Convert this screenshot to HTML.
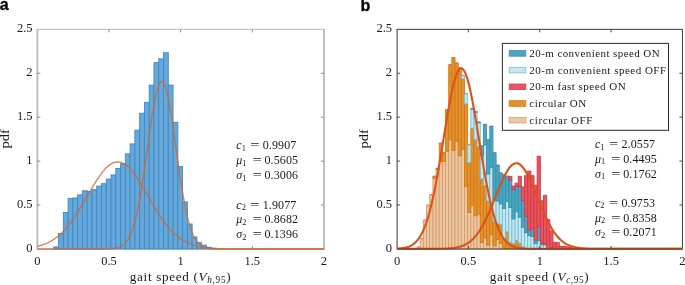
<!DOCTYPE html>
<html><head><meta charset="utf-8"><title>Gait speed pdf</title>
<style>html,body{margin:0;padding:0;background:#fff;}body{width:685px;height:285px;overflow:hidden;}svg{display:block;will-change:transform;}</style>
</head><body>
<svg width="685" height="285" viewBox="0 0 685 285" font-family='"Liberation Serif", "DejaVu Serif", serif' fill="#1a1a1a">
<rect width="685" height="285" fill="#fff"/>
<path d="M37.35 29.35H323.95M37.35 249.00H323.95" stroke="#c6c6c6" stroke-width="1.3" fill="none"/>
<path d="M37.35 28.75V249.60M323.95 28.75V249.60" stroke="#b6b6b6" stroke-width="1.7" fill="none"/>
<g fill="#68a8d8" stroke="#3a8acb" stroke-width="0.9">
<rect x="53.80" y="246.89" width="4.77" height="2.11"/>
<rect x="58.57" y="233.54" width="4.77" height="15.46"/>
<rect x="63.34" y="212.45" width="4.77" height="36.55"/>
<rect x="68.11" y="198.39" width="4.77" height="50.61"/>
<rect x="72.88" y="197.95" width="4.77" height="51.05"/>
<rect x="77.65" y="194.88" width="4.77" height="54.12"/>
<rect x="82.42" y="190.75" width="4.77" height="58.25"/>
<rect x="87.19" y="191.36" width="4.77" height="57.64"/>
<rect x="91.96" y="189.61" width="4.77" height="59.39"/>
<rect x="96.73" y="186.09" width="4.77" height="62.91"/>
<rect x="101.50" y="183.72" width="4.77" height="65.28"/>
<rect x="106.27" y="179.06" width="4.77" height="69.94"/>
<rect x="111.04" y="174.93" width="4.77" height="74.07"/>
<rect x="115.81" y="168.52" width="4.77" height="80.48"/>
<rect x="120.58" y="163.69" width="4.77" height="85.31"/>
<rect x="125.35" y="153.85" width="4.77" height="95.15"/>
<rect x="130.12" y="143.92" width="4.77" height="105.08"/>
<rect x="134.89" y="130.12" width="4.77" height="118.88"/>
<rect x="139.66" y="113.25" width="4.77" height="135.75"/>
<rect x="144.43" y="102.36" width="4.77" height="146.64"/>
<rect x="149.20" y="85.14" width="4.77" height="163.86"/>
<rect x="153.97" y="62.65" width="4.77" height="186.35"/>
<rect x="158.74" y="58.87" width="4.77" height="190.13"/>
<rect x="163.51" y="52.72" width="4.77" height="196.28"/>
<rect x="168.28" y="85.05" width="4.77" height="163.95"/>
<rect x="173.05" y="122.30" width="4.77" height="126.70"/>
<rect x="177.82" y="166.50" width="4.77" height="82.50"/>
<rect x="182.59" y="201.91" width="4.77" height="47.09"/>
<rect x="187.36" y="224.05" width="4.77" height="24.95"/>
<rect x="192.13" y="237.05" width="4.77" height="11.95"/>
<rect x="196.90" y="242.67" width="4.77" height="6.33"/>
<rect x="201.67" y="245.13" width="4.77" height="3.87"/>
<rect x="206.44" y="247.24" width="4.77" height="1.76"/>
<rect x="211.21" y="248.30" width="4.77" height="0.70"/>
</g>
<path d="M37.35 246.31 L37.92 246.17 L38.50 246.03 L39.07 245.88 L39.64 245.73 L40.22 245.57 L40.79 245.40 L41.36 245.23 L41.94 245.04 L42.51 244.85 L43.08 244.66 L43.66 244.45 L44.23 244.24 L44.80 244.02 L45.37 243.79 L45.95 243.56 L46.52 243.31 L47.09 243.06 L47.67 242.79 L48.24 242.52 L48.81 242.24 L49.39 241.95 L49.96 241.64 L50.53 241.33 L51.11 241.01 L51.68 240.67 L52.25 240.33 L52.83 239.97 L53.40 239.60 L53.97 239.23 L54.55 238.83 L55.12 238.43 L55.69 238.02 L56.27 237.59 L56.84 237.15 L57.41 236.70 L57.99 236.24 L58.56 235.76 L59.13 235.27 L59.70 234.77 L60.28 234.25 L60.85 233.72 L61.42 233.18 L62.00 232.62 L62.57 232.05 L63.14 231.47 L63.72 230.87 L64.29 230.26 L64.86 229.63 L65.44 228.99 L66.01 228.34 L66.58 227.67 L67.16 226.99 L67.73 226.30 L68.30 225.59 L68.88 224.87 L69.45 224.14 L70.02 223.39 L70.60 222.63 L71.17 221.86 L71.74 221.07 L72.32 220.27 L72.89 219.46 L73.46 218.64 L74.03 217.80 L74.61 216.96 L75.18 216.10 L75.75 215.23 L76.33 214.35 L76.90 213.46 L77.47 212.56 L78.05 211.65 L78.62 210.73 L79.19 209.80 L79.77 208.87 L80.34 207.92 L80.91 206.97 L81.49 206.02 L82.06 205.05 L82.63 204.08 L83.21 203.11 L83.78 202.13 L84.35 201.15 L84.93 200.16 L85.50 199.17 L86.07 198.18 L86.65 197.19 L87.22 196.19 L87.79 195.20 L88.36 194.21 L88.94 193.21 L89.51 192.23 L90.08 191.24 L90.66 190.26 L91.23 189.28 L91.80 188.31 L92.38 187.34 L92.95 186.38 L93.52 185.43 L94.10 184.48 L94.67 183.55 L95.24 182.62 L95.82 181.71 L96.39 180.81 L96.96 179.92 L97.54 179.04 L98.11 178.18 L98.68 177.33 L99.26 176.49 L99.83 175.68 L100.40 174.88 L100.98 174.10 L101.55 173.33 L102.12 172.59 L102.69 171.87 L103.27 171.16 L103.84 170.48 L104.41 169.82 L104.99 169.18 L105.56 168.57 L106.13 167.98 L106.71 167.42 L107.28 166.88 L107.85 166.36 L108.43 165.87 L109.00 165.41 L109.57 164.98 L110.15 164.57 L110.72 164.19 L111.29 163.84 L111.87 163.52 L112.44 163.23 L113.01 162.97 L113.59 162.74 L114.16 162.53 L114.73 162.36 L115.31 162.22 L115.88 162.11 L116.45 162.03 L117.02 161.98 L117.60 161.96 L118.17 161.97 L118.74 162.01 L119.32 162.08 L119.89 162.19 L120.46 162.32 L121.04 162.49 L121.61 162.68 L122.18 162.91 L122.76 163.16 L123.33 163.45 L123.90 163.76 L124.48 164.10 L125.05 164.47 L125.62 164.87 L126.20 165.30 L126.77 165.76 L127.34 166.24 L127.92 166.74 L128.49 167.28 L129.06 167.84 L129.64 168.42 L130.21 169.03 L130.78 169.66 L131.35 170.31 L131.93 170.99 L132.50 171.69 L133.07 172.41 L133.65 173.15 L134.22 173.90 L134.79 174.68 L135.37 175.48 L135.94 176.29 L136.51 177.12 L137.09 177.96 L137.66 178.82 L138.23 179.70 L138.81 180.58 L139.38 181.48 L139.95 182.39 L140.53 183.32 L141.10 184.25 L141.67 185.19 L142.25 186.14 L142.82 187.10 L143.39 188.06 L143.97 189.04 L144.54 190.01 L145.11 190.99 L145.68 191.98 L146.26 192.97 L146.83 193.96 L147.40 194.95 L147.98 195.94 L148.55 196.94 L149.12 197.93 L149.70 198.92 L150.27 199.91 L150.84 200.90 L151.42 201.88 L151.99 202.86 L152.56 203.84 L153.14 204.81 L153.71 205.78 L154.28 206.74 L154.86 207.69 L155.43 208.63 L156.00 209.57 L156.58 210.50 L157.15 211.42 L157.72 212.33 L158.30 213.24 L158.87 214.13 L159.44 215.01 L160.01 215.88 L160.59 216.74 L161.16 217.59 L161.73 218.43 L162.31 219.26 L162.88 220.07 L163.45 220.87 L164.03 221.66 L164.60 222.44 L165.17 223.20 L165.75 223.95 L166.32 224.69 L166.89 225.42 L167.47 226.13 L168.04 226.82 L168.61 227.51 L169.19 228.18 L169.76 228.83 L170.33 229.47 L170.91 230.10 L171.48 230.72 L172.05 231.32 L172.63 231.91 L173.20 232.48 L173.77 233.04 L174.34 233.59 L174.92 234.12 L175.49 234.64 L176.06 235.14 L176.64 235.64 L177.21 236.12 L177.78 236.59 L178.36 237.04 L178.93 237.48 L179.50 237.91 L180.08 238.33 L180.65 238.74 L181.22 239.13 L181.80 239.51 L182.37 239.88 L182.94 240.24 L183.52 240.59 L184.09 240.92 L184.66 241.25 L185.24 241.57 L185.81 241.87 L186.38 242.17 L186.96 242.45 L187.53 242.73 L188.10 242.99 L188.67 243.25 L189.25 243.50 L189.82 243.74 L190.39 243.97 L190.97 244.19 L191.54 244.40 L192.11 244.61 L192.69 244.81 L193.26 245.00 L193.83 245.18 L194.41 245.36 L194.98 245.53 L195.55 245.69 L196.13 245.84 L196.70 245.99 L197.27 246.14 L197.85 246.28 L198.42 246.41 L198.99 246.53 L199.57 246.66 L200.14 246.77 L200.71 246.88 L201.29 246.99 L201.86 247.09 L202.43 247.19 L203.00 247.28 L203.58 247.37 L204.15 247.45 L204.72 247.53 L205.30 247.61 L205.87 247.68 L206.44 247.75 L207.02 247.82 L207.59 247.89 L208.16 247.95 L208.74 248.00 L209.31 248.06 L209.88 248.11 L210.46 248.16 L211.03 248.21 L211.60 248.25 L212.18 248.29 L212.75 248.33 L213.32 248.37 L213.90 248.41 L214.47 248.44 L215.04 248.47 L215.62 248.51 L216.19 248.53 L216.76 248.56 L217.33 248.59 L217.91 248.61 L218.48 248.64 L219.05 248.66 L219.63 248.68 L220.20 248.70 L220.77 248.72 L221.35 248.73 L221.92 248.75 L222.49 248.77 L223.07 248.78 L223.64 248.80 L224.21 248.81 L224.79 248.82 L225.36 248.83 L225.93 248.84 L226.51 248.85 L227.08 248.86 L227.65 248.87 L228.23 248.88 L228.80 248.89 L229.37 248.90 L229.95 248.90 L230.52 248.91 L231.09 248.92 L231.66 248.92 L232.24 248.93 L232.81 248.93 L233.38 248.94 L233.96 248.94 L234.53 248.94 L235.10 248.95 L235.68 248.95 L236.25 248.96 L236.82 248.96 L237.40 248.96 L237.97 248.96 L238.54 248.97 L239.12 248.97 L239.69 248.97 L240.26 248.97 L240.84 248.98 L241.41 248.98 L241.98 248.98 L242.56 248.98 L243.13 248.98 L243.70 248.98 L244.28 248.98 L244.85 248.99 L245.42 248.99 L245.99 248.99 L246.57 248.99 L247.14 248.99 L247.71 248.99 L248.29 248.99 L248.86 248.99 L249.43 248.99 L250.01 248.99 L250.58 248.99 L251.15 248.99 L251.73 248.99 L252.30 249.00 L252.87 249.00 L253.45 249.00 L254.02 249.00 L254.59 249.00 L255.17 249.00 L255.74 249.00 L256.31 249.00 L256.89 249.00 L257.46 249.00 L258.03 249.00 L258.61 249.00 L259.18 249.00 L259.75 249.00 L260.32 249.00 L260.90 249.00 L261.47 249.00 L262.04 249.00 L262.62 249.00 L263.19 249.00 L263.76 249.00 L264.34 249.00 L264.91 249.00 L265.48 249.00 L266.06 249.00 L266.63 249.00 L267.20 249.00 L267.78 249.00 L268.35 249.00 L268.92 249.00 L269.50 249.00 L270.07 249.00 L270.64 249.00 L271.22 249.00 L271.79 249.00 L272.36 249.00 L272.94 249.00 L273.51 249.00 L274.08 249.00 L274.65 249.00 L275.23 249.00 L275.80 249.00 L276.37 249.00 L276.95 249.00 L277.52 249.00 L278.09 249.00 L278.67 249.00 L279.24 249.00 L279.81 249.00 L280.39 249.00 L280.96 249.00 L281.53 249.00 L282.11 249.00 L282.68 249.00 L283.25 249.00 L283.83 249.00 L284.40 249.00 L284.97 249.00 L285.55 249.00 L286.12 249.00 L286.69 249.00 L287.27 249.00 L287.84 249.00 L288.41 249.00 L288.98 249.00 L289.56 249.00 L290.13 249.00 L290.70 249.00 L291.28 249.00 L291.85 249.00 L292.42 249.00 L293.00 249.00 L293.57 249.00 L294.14 249.00 L294.72 249.00 L295.29 249.00 L295.86 249.00 L296.44 249.00 L297.01 249.00 L297.58 249.00 L298.16 249.00 L298.73 249.00 L299.30 249.00 L299.88 249.00 L300.45 249.00 L301.02 249.00 L301.60 249.00 L302.17 249.00 L302.74 249.00 L303.31 249.00 L303.89 249.00 L304.46 249.00 L305.03 249.00 L305.61 249.00 L306.18 249.00 L306.75 249.00 L307.33 249.00 L307.90 249.00 L308.47 249.00 L309.05 249.00 L309.62 249.00 L310.19 249.00 L310.77 249.00 L311.34 249.00 L311.91 249.00 L312.49 249.00 L313.06 249.00 L313.63 249.00 L314.21 249.00 L314.78 249.00 L315.35 249.00 L315.93 249.00 L316.50 249.00 L317.07 249.00 L317.64 249.00 L318.22 249.00 L318.79 249.00 L319.36 249.00 L319.94 249.00 L320.51 249.00 L321.08 249.00 L321.66 249.00 L322.23 249.00 L322.80 249.00 L323.38 249.00 L323.95 249.00" fill="none" stroke="#d6632b" stroke-width="1.4" stroke-opacity="0.78" stroke-linejoin="round"/>
<path d="M37.35 249.00 L37.92 249.00 L38.50 249.00 L39.07 249.00 L39.64 249.00 L40.22 249.00 L40.79 249.00 L41.36 249.00 L41.94 249.00 L42.51 249.00 L43.08 249.00 L43.66 249.00 L44.23 249.00 L44.80 249.00 L45.37 249.00 L45.95 249.00 L46.52 249.00 L47.09 249.00 L47.67 249.00 L48.24 249.00 L48.81 249.00 L49.39 249.00 L49.96 249.00 L50.53 249.00 L51.11 249.00 L51.68 249.00 L52.25 249.00 L52.83 249.00 L53.40 249.00 L53.97 249.00 L54.55 249.00 L55.12 249.00 L55.69 249.00 L56.27 249.00 L56.84 249.00 L57.41 249.00 L57.99 249.00 L58.56 249.00 L59.13 249.00 L59.70 249.00 L60.28 249.00 L60.85 249.00 L61.42 249.00 L62.00 249.00 L62.57 249.00 L63.14 249.00 L63.72 249.00 L64.29 249.00 L64.86 249.00 L65.44 249.00 L66.01 249.00 L66.58 249.00 L67.16 249.00 L67.73 249.00 L68.30 249.00 L68.88 249.00 L69.45 249.00 L70.02 249.00 L70.60 249.00 L71.17 249.00 L71.74 249.00 L72.32 249.00 L72.89 249.00 L73.46 249.00 L74.03 249.00 L74.61 249.00 L75.18 249.00 L75.75 249.00 L76.33 249.00 L76.90 249.00 L77.47 249.00 L78.05 249.00 L78.62 249.00 L79.19 249.00 L79.77 249.00 L80.34 249.00 L80.91 249.00 L81.49 249.00 L82.06 249.00 L82.63 249.00 L83.21 249.00 L83.78 249.00 L84.35 249.00 L84.93 249.00 L85.50 249.00 L86.07 249.00 L86.65 249.00 L87.22 249.00 L87.79 249.00 L88.36 249.00 L88.94 249.00 L89.51 249.00 L90.08 249.00 L90.66 249.00 L91.23 249.00 L91.80 249.00 L92.38 249.00 L92.95 249.00 L93.52 249.00 L94.10 249.00 L94.67 249.00 L95.24 249.00 L95.82 249.00 L96.39 249.00 L96.96 249.00 L97.54 248.99 L98.11 248.99 L98.68 248.99 L99.26 248.99 L99.83 248.99 L100.40 248.99 L100.98 248.98 L101.55 248.98 L102.12 248.98 L102.69 248.97 L103.27 248.97 L103.84 248.96 L104.41 248.95 L104.99 248.95 L105.56 248.94 L106.13 248.93 L106.71 248.91 L107.28 248.90 L107.85 248.88 L108.43 248.86 L109.00 248.84 L109.57 248.81 L110.15 248.78 L110.72 248.75 L111.29 248.71 L111.87 248.67 L112.44 248.62 L113.01 248.56 L113.59 248.49 L114.16 248.42 L114.73 248.33 L115.31 248.24 L115.88 248.13 L116.45 248.01 L117.02 247.87 L117.60 247.72 L118.17 247.55 L118.74 247.36 L119.32 247.14 L119.89 246.90 L120.46 246.64 L121.04 246.34 L121.61 246.02 L122.18 245.66 L122.76 245.26 L123.33 244.82 L123.90 244.34 L124.48 243.81 L125.05 243.23 L125.62 242.59 L126.20 241.90 L126.77 241.14 L127.34 240.32 L127.92 239.43 L128.49 238.46 L129.06 237.42 L129.64 236.29 L130.21 235.08 L130.78 233.77 L131.35 232.37 L131.93 230.87 L132.50 229.27 L133.07 227.57 L133.65 225.75 L134.22 223.82 L134.79 221.77 L135.37 219.61 L135.94 217.33 L136.51 214.93 L137.09 212.40 L137.66 209.75 L138.23 206.98 L138.81 204.09 L139.38 201.07 L139.95 197.94 L140.53 194.69 L141.10 191.33 L141.67 187.87 L142.25 184.30 L142.82 180.64 L143.39 176.88 L143.97 173.05 L144.54 169.14 L145.11 165.17 L145.68 161.15 L146.26 157.08 L146.83 152.99 L147.40 148.87 L147.98 144.75 L148.55 140.64 L149.12 136.55 L149.70 132.50 L150.27 128.51 L150.84 124.58 L151.42 120.73 L151.99 116.98 L152.56 113.34 L153.14 109.83 L153.71 106.47 L154.28 103.26 L154.86 100.23 L155.43 97.38 L156.00 94.73 L156.58 92.29 L157.15 90.07 L157.72 88.09 L158.30 86.35 L158.87 84.86 L159.44 83.63 L160.01 82.66 L160.59 81.97 L161.16 81.54 L161.73 81.39 L162.31 81.51 L162.88 81.91 L163.45 82.58 L164.03 83.52 L164.60 84.73 L165.17 86.19 L165.75 87.91 L166.32 89.86 L166.89 92.06 L167.47 94.47 L168.04 97.10 L168.61 99.93 L169.19 102.95 L169.76 106.14 L170.33 109.49 L170.91 112.98 L171.48 116.61 L172.05 120.35 L172.63 124.19 L173.20 128.11 L173.77 132.10 L174.34 136.15 L174.92 140.23 L175.49 144.34 L176.06 148.46 L176.64 152.57 L177.21 156.67 L177.78 160.74 L178.36 164.77 L178.93 168.75 L179.50 172.66 L180.08 176.50 L180.65 180.26 L181.22 183.94 L181.80 187.52 L182.37 190.99 L182.94 194.36 L183.52 197.62 L184.09 200.77 L184.66 203.79 L185.24 206.70 L185.81 209.48 L186.38 212.14 L186.96 214.68 L187.53 217.09 L188.10 219.39 L188.67 221.56 L189.25 223.62 L189.82 225.56 L190.39 227.39 L190.97 229.11 L191.54 230.72 L192.11 232.23 L192.69 233.64 L193.26 234.95 L193.83 236.17 L194.41 237.31 L194.98 238.36 L195.55 239.33 L196.13 240.23 L196.70 241.06 L197.27 241.82 L197.85 242.52 L198.42 243.16 L198.99 243.75 L199.57 244.29 L200.14 244.77 L200.71 245.22 L201.29 245.62 L201.86 245.98 L202.43 246.31 L203.00 246.61 L203.58 246.88 L204.15 247.12 L204.72 247.34 L205.30 247.53 L205.87 247.70 L206.44 247.86 L207.02 248.00 L207.59 248.12 L208.16 248.23 L208.74 248.32 L209.31 248.41 L209.88 248.49 L210.46 248.55 L211.03 248.61 L211.60 248.66 L212.18 248.71 L212.75 248.75 L213.32 248.78 L213.90 248.81 L214.47 248.84 L215.04 248.86 L215.62 248.88 L216.19 248.90 L216.76 248.91 L217.33 248.93 L217.91 248.94 L218.48 248.95 L219.05 248.95 L219.63 248.96 L220.20 248.97 L220.77 248.97 L221.35 248.98 L221.92 248.98 L222.49 248.98 L223.07 248.99 L223.64 248.99 L224.21 248.99 L224.79 248.99 L225.36 248.99 L225.93 248.99 L226.51 249.00 L227.08 249.00 L227.65 249.00 L228.23 249.00 L228.80 249.00 L229.37 249.00 L229.95 249.00 L230.52 249.00 L231.09 249.00 L231.66 249.00 L232.24 249.00 L232.81 249.00 L233.38 249.00 L233.96 249.00 L234.53 249.00 L235.10 249.00 L235.68 249.00 L236.25 249.00 L236.82 249.00 L237.40 249.00 L237.97 249.00 L238.54 249.00 L239.12 249.00 L239.69 249.00 L240.26 249.00 L240.84 249.00 L241.41 249.00 L241.98 249.00 L242.56 249.00 L243.13 249.00 L243.70 249.00 L244.28 249.00 L244.85 249.00 L245.42 249.00 L245.99 249.00 L246.57 249.00 L247.14 249.00 L247.71 249.00 L248.29 249.00 L248.86 249.00 L249.43 249.00 L250.01 249.00 L250.58 249.00 L251.15 249.00 L251.73 249.00 L252.30 249.00 L252.87 249.00 L253.45 249.00 L254.02 249.00 L254.59 249.00 L255.17 249.00 L255.74 249.00 L256.31 249.00 L256.89 249.00 L257.46 249.00 L258.03 249.00 L258.61 249.00 L259.18 249.00 L259.75 249.00 L260.32 249.00 L260.90 249.00 L261.47 249.00 L262.04 249.00 L262.62 249.00 L263.19 249.00 L263.76 249.00 L264.34 249.00 L264.91 249.00 L265.48 249.00 L266.06 249.00 L266.63 249.00 L267.20 249.00 L267.78 249.00 L268.35 249.00 L268.92 249.00 L269.50 249.00 L270.07 249.00 L270.64 249.00 L271.22 249.00 L271.79 249.00 L272.36 249.00 L272.94 249.00 L273.51 249.00 L274.08 249.00 L274.65 249.00 L275.23 249.00 L275.80 249.00 L276.37 249.00 L276.95 249.00 L277.52 249.00 L278.09 249.00 L278.67 249.00 L279.24 249.00 L279.81 249.00 L280.39 249.00 L280.96 249.00 L281.53 249.00 L282.11 249.00 L282.68 249.00 L283.25 249.00 L283.83 249.00 L284.40 249.00 L284.97 249.00 L285.55 249.00 L286.12 249.00 L286.69 249.00 L287.27 249.00 L287.84 249.00 L288.41 249.00 L288.98 249.00 L289.56 249.00 L290.13 249.00 L290.70 249.00 L291.28 249.00 L291.85 249.00 L292.42 249.00 L293.00 249.00 L293.57 249.00 L294.14 249.00 L294.72 249.00 L295.29 249.00 L295.86 249.00 L296.44 249.00 L297.01 249.00 L297.58 249.00 L298.16 249.00 L298.73 249.00 L299.30 249.00 L299.88 249.00 L300.45 249.00 L301.02 249.00 L301.60 249.00 L302.17 249.00 L302.74 249.00 L303.31 249.00 L303.89 249.00 L304.46 249.00 L305.03 249.00 L305.61 249.00 L306.18 249.00 L306.75 249.00 L307.33 249.00 L307.90 249.00 L308.47 249.00 L309.05 249.00 L309.62 249.00 L310.19 249.00 L310.77 249.00 L311.34 249.00 L311.91 249.00 L312.49 249.00 L313.06 249.00 L313.63 249.00 L314.21 249.00 L314.78 249.00 L315.35 249.00 L315.93 249.00 L316.50 249.00 L317.07 249.00 L317.64 249.00 L318.22 249.00 L318.79 249.00 L319.36 249.00 L319.94 249.00 L320.51 249.00 L321.08 249.00 L321.66 249.00 L322.23 249.00 L322.80 249.00 L323.38 249.00 L323.95 249.00" fill="none" stroke="#d6632b" stroke-width="1.4" stroke-opacity="0.78" stroke-linejoin="round"/>
<path d="M109.00 249.00v-3.0M109.00 29.35v3.0M180.65 249.00v-3.0M180.65 29.35v3.0M252.30 249.00v-3.0M252.30 29.35v3.0M37.35 205.07h3.0M323.95 205.07h-3.0M37.35 161.14h3.0M323.95 161.14h-3.0M37.35 117.21h3.0M323.95 117.21h-3.0M37.35 73.28h3.0M323.95 73.28h-3.0" stroke="#8a8a8a" stroke-width="1.0" fill="none"/>
<text x="37.35" y="264.6" text-anchor="middle" font-size="12.5">0</text>
<text x="109.00" y="264.6" text-anchor="middle" font-size="12.5">0.5</text>
<text x="180.65" y="264.6" text-anchor="middle" font-size="12.5">1</text>
<text x="252.30" y="264.6" text-anchor="middle" font-size="12.5">1.5</text>
<text x="323.95" y="264.6" text-anchor="middle" font-size="12.5">2</text>
<text x="32.60" y="252.00" text-anchor="end" font-size="12.5">0</text>
<text x="32.60" y="208.07" text-anchor="end" font-size="12.5">0.5</text>
<text x="32.60" y="164.14" text-anchor="end" font-size="12.5">1</text>
<text x="32.60" y="120.21" text-anchor="end" font-size="12.5">1.5</text>
<text x="32.60" y="76.28" text-anchor="end" font-size="12.5">2</text>
<text x="32.60" y="32.35" text-anchor="end" font-size="12.5">2.5</text>
<text transform="translate(8.6 138.8) rotate(-90)" text-anchor="middle" font-size="13.2" textLength="19.3" lengthAdjust="spacingAndGlyphs">pdf</text>
<text x="129.80" y="281.10" font-size="13.2" textLength="100.80" lengthAdjust="spacing">gait speed (<tspan font-style="italic">V</tspan><tspan font-size="9.3" dy="2.2"><tspan font-style="italic">h</tspan>,95</tspan><tspan dy="-2.2">)</tspan></text>
<text y="149.40" font-size="12"><tspan x="236.30" font-style="italic">c</tspan><tspan font-size="8.4" dy="1.8">1</tspan><tspan dy="-1.8" x="250.30" textLength="9.3" lengthAdjust="spacingAndGlyphs">=</tspan><tspan x="262.70" textLength="33.6" lengthAdjust="spacing">0.9907</tspan></text>
<text y="163.80" font-size="12"><tspan x="236.30" font-style="italic">μ</tspan><tspan font-size="8.4" dy="1.8">1</tspan><tspan dy="-1.8" x="252.50" textLength="9.3" lengthAdjust="spacingAndGlyphs">=</tspan><tspan x="264.50" textLength="33.6" lengthAdjust="spacing">0.5605</tspan></text>
<text y="178.70" font-size="12"><tspan x="236.30" font-style="italic">σ</tspan><tspan font-size="8.4" dy="1.8">1</tspan><tspan dy="-1.8" x="252.50" textLength="9.3" lengthAdjust="spacingAndGlyphs">=</tspan><tspan x="264.50" textLength="33.6" lengthAdjust="spacing">0.3006</tspan></text>
<text y="208.60" font-size="12"><tspan x="236.30" font-style="italic">c</tspan><tspan font-size="8.4" dy="1.8">2</tspan><tspan dy="-1.8" x="250.30" textLength="9.3" lengthAdjust="spacingAndGlyphs">=</tspan><tspan x="262.70" textLength="33.6" lengthAdjust="spacing">1.9077</tspan></text>
<text y="222.90" font-size="12"><tspan x="236.30" font-style="italic">μ</tspan><tspan font-size="8.4" dy="1.8">2</tspan><tspan dy="-1.8" x="252.50" textLength="9.3" lengthAdjust="spacingAndGlyphs">=</tspan><tspan x="264.50" textLength="33.6" lengthAdjust="spacing">0.8682</tspan></text>
<text y="237.90" font-size="12"><tspan x="236.30" font-style="italic">σ</tspan><tspan font-size="8.4" dy="1.8">2</tspan><tspan dy="-1.8" x="252.50" textLength="9.3" lengthAdjust="spacingAndGlyphs">=</tspan><tspan x="264.50" textLength="33.6" lengthAdjust="spacing">0.1396</tspan></text>
<text x="-0.2" y="9.7" font-family='"Liberation Sans", "DejaVu Sans", sans-serif' font-weight="bold" font-size="16" fill="#000" stroke="#000" stroke-width="0.3">a</text>
<rect x="397.10" y="29.35" width="285.30" height="219.55" fill="none" stroke="#3a3a3a" stroke-width="1.0"/>
<g fill="#eac8a6" stroke="#d99c63" stroke-width="0.9">
<rect x="417.10" y="247.14" width="3.16" height="1.76"/>
<rect x="420.26" y="238.71" width="3.16" height="10.19"/>
<rect x="423.42" y="220.27" width="3.16" height="28.63"/>
<rect x="426.58" y="205.34" width="3.16" height="43.56"/>
<rect x="429.74" y="194.80" width="3.16" height="54.10"/>
<rect x="432.90" y="178.12" width="3.16" height="70.78"/>
<rect x="436.06" y="169.33" width="3.16" height="79.57"/>
<rect x="439.22" y="161.43" width="3.16" height="87.47"/>
<rect x="442.38" y="161.43" width="3.16" height="87.47"/>
<rect x="445.54" y="151.24" width="3.16" height="97.66"/>
<rect x="448.70" y="139.74" width="3.16" height="109.16"/>
<rect x="451.86" y="150.28" width="3.16" height="98.62"/>
<rect x="455.02" y="141.49" width="3.16" height="107.41"/>
<rect x="458.18" y="155.63" width="3.16" height="93.27"/>
<rect x="461.34" y="149.40" width="3.16" height="99.50"/>
<rect x="464.50" y="186.37" width="3.16" height="62.53"/>
<rect x="467.66" y="212.54" width="3.16" height="36.36"/>
<rect x="470.82" y="205.34" width="3.16" height="43.56"/>
<rect x="473.98" y="215.70" width="3.16" height="33.20"/>
<rect x="477.14" y="214.12" width="3.16" height="34.78"/>
<rect x="480.30" y="242.58" width="3.16" height="6.32"/>
<rect x="483.46" y="237.83" width="3.16" height="11.07"/>
<rect x="486.62" y="244.95" width="3.16" height="3.95"/>
<rect x="489.78" y="234.67" width="3.16" height="14.23"/>
<rect x="492.94" y="245.74" width="3.16" height="3.16"/>
<rect x="496.10" y="239.41" width="3.16" height="9.49"/>
<rect x="499.26" y="243.37" width="3.16" height="5.53"/>
<rect x="502.42" y="248.11" width="3.16" height="0.79"/>
</g>
<g fill="#e2912f" stroke="#d47a12" stroke-width="0.9">
<rect x="432.90" y="176.36" width="3.16" height="1.76"/>
<rect x="436.06" y="168.46" width="3.16" height="0.88"/>
<rect x="439.22" y="143.25" width="3.16" height="18.18"/>
<rect x="442.38" y="152.65" width="3.16" height="8.78"/>
<rect x="445.54" y="109.88" width="3.16" height="41.36"/>
<rect x="448.70" y="64.83" width="3.16" height="74.91"/>
<rect x="451.86" y="57.80" width="3.16" height="92.47"/>
<rect x="455.02" y="63.07" width="3.16" height="78.42"/>
<rect x="458.18" y="67.90" width="3.16" height="87.73"/>
<rect x="461.34" y="78.88" width="3.16" height="70.52"/>
<rect x="464.50" y="103.73" width="3.16" height="82.64"/>
<rect x="467.66" y="162.57" width="3.16" height="49.97"/>
<rect x="470.82" y="128.32" width="3.16" height="77.02"/>
<rect x="473.98" y="139.74" width="3.16" height="75.96"/>
<rect x="477.14" y="146.24" width="3.16" height="67.88"/>
<rect x="480.30" y="178.99" width="3.16" height="63.58"/>
<rect x="483.46" y="185.49" width="3.16" height="52.34"/>
<rect x="486.62" y="200.95" width="3.16" height="44.00"/>
<rect x="489.78" y="205.34" width="3.16" height="29.33"/>
<rect x="492.94" y="221.15" width="3.16" height="24.59"/>
<rect x="496.10" y="223.78" width="3.16" height="15.63"/>
<rect x="499.26" y="224.40" width="3.16" height="18.97"/>
<rect x="502.42" y="238.71" width="3.16" height="9.40"/>
<rect x="505.58" y="231.69" width="3.16" height="17.21"/>
<rect x="508.74" y="242.22" width="3.16" height="6.68"/>
<rect x="511.90" y="243.54" width="3.16" height="5.36"/>
<rect x="515.06" y="240.47" width="3.16" height="8.43"/>
<rect x="518.22" y="243.10" width="3.16" height="5.80"/>
<rect x="521.38" y="246.62" width="3.16" height="2.28"/>
</g>
<g fill="#c9e6ee" stroke="#6cc3d8" stroke-width="0.9">
<rect x="461.34" y="75.72" width="3.16" height="3.16"/>
<rect x="464.50" y="93.81" width="3.16" height="9.92"/>
<rect x="467.66" y="145.01" width="3.16" height="17.56"/>
<rect x="470.82" y="109.18" width="3.16" height="19.14"/>
<rect x="473.98" y="112.25" width="3.16" height="27.49"/>
<rect x="477.14" y="122.79" width="3.16" height="23.45"/>
<rect x="480.30" y="155.28" width="3.16" height="23.71"/>
<rect x="483.46" y="145.01" width="3.16" height="40.49"/>
<rect x="486.62" y="173.99" width="3.16" height="26.96"/>
<rect x="489.78" y="167.58" width="3.16" height="37.76"/>
<rect x="492.94" y="200.07" width="3.16" height="21.08"/>
<rect x="496.10" y="200.95" width="3.16" height="22.83"/>
<rect x="499.26" y="203.93" width="3.16" height="20.46"/>
<rect x="502.42" y="208.33" width="3.16" height="30.39"/>
<rect x="505.58" y="201.30" width="3.16" height="30.39"/>
<rect x="508.74" y="207.45" width="3.16" height="34.78"/>
<rect x="511.90" y="218.86" width="3.16" height="24.68"/>
<rect x="515.06" y="211.84" width="3.16" height="28.63"/>
<rect x="518.22" y="217.11" width="3.16" height="25.99"/>
<rect x="521.38" y="227.29" width="3.16" height="19.32"/>
<rect x="524.54" y="232.56" width="3.16" height="16.34"/>
<rect x="527.70" y="235.64" width="3.16" height="13.26"/>
<rect x="530.86" y="236.43" width="3.16" height="12.47"/>
<rect x="534.02" y="243.45" width="3.16" height="5.45"/>
<rect x="537.18" y="240.47" width="3.16" height="8.43"/>
<rect x="540.34" y="244.86" width="3.16" height="4.04"/>
<rect x="543.50" y="244.86" width="3.16" height="4.04"/>
</g>
<g fill="#4da5c0" stroke="#3292b0" stroke-width="0.9">
<rect x="470.82" y="108.74" width="3.16" height="0.44"/>
<rect x="473.98" y="111.64" width="3.16" height="0.61"/>
<rect x="477.14" y="122.09" width="3.16" height="0.70"/>
<rect x="480.30" y="145.80" width="3.16" height="9.48"/>
<rect x="483.46" y="124.55" width="3.16" height="20.46"/>
<rect x="486.62" y="139.74" width="3.16" height="34.25"/>
<rect x="489.78" y="126.30" width="3.16" height="41.28"/>
<rect x="492.94" y="152.91" width="3.16" height="47.16"/>
<rect x="496.10" y="165.21" width="3.16" height="35.74"/>
<rect x="499.26" y="173.11" width="3.16" height="30.82"/>
<rect x="502.42" y="174.87" width="3.16" height="33.46"/>
<rect x="505.58" y="176.27" width="3.16" height="25.03"/>
<rect x="508.74" y="180.14" width="3.16" height="27.31"/>
<rect x="511.90" y="189.27" width="3.16" height="29.60"/>
<rect x="515.06" y="186.28" width="3.16" height="25.56"/>
<rect x="518.22" y="186.28" width="3.16" height="30.82"/>
<rect x="521.38" y="200.42" width="3.16" height="26.87"/>
<rect x="524.54" y="216.23" width="3.16" height="16.33"/>
<rect x="527.70" y="230.28" width="3.16" height="5.36"/>
<rect x="530.86" y="228.52" width="3.16" height="7.90"/>
<rect x="534.02" y="239.94" width="3.16" height="3.51"/>
<rect x="537.18" y="226.77" width="3.16" height="13.70"/>
<rect x="540.34" y="243.45" width="3.16" height="1.41"/>
<rect x="543.50" y="243.45" width="3.16" height="1.41"/>
<rect x="549.82" y="247.49" width="3.16" height="1.41"/>
</g>
<g fill="#e8545f" stroke="#d63645" stroke-width="0.9">
<rect x="508.74" y="176.62" width="3.16" height="3.51"/>
<rect x="511.90" y="186.28" width="3.16" height="2.99"/>
<rect x="515.06" y="183.38" width="3.16" height="2.90"/>
<rect x="518.22" y="176.62" width="3.16" height="9.66"/>
<rect x="521.38" y="187.16" width="3.16" height="13.26"/>
<rect x="524.54" y="175.74" width="3.16" height="40.49"/>
<rect x="527.70" y="171.35" width="3.16" height="58.93"/>
<rect x="530.86" y="175.74" width="3.16" height="52.78"/>
<rect x="534.02" y="185.40" width="3.16" height="54.54"/>
<rect x="537.18" y="156.42" width="3.16" height="70.34"/>
<rect x="540.34" y="200.95" width="3.16" height="42.50"/>
<rect x="543.50" y="195.59" width="3.16" height="47.86"/>
<rect x="546.66" y="219.74" width="3.16" height="29.16"/>
<rect x="549.82" y="231.16" width="3.16" height="16.33"/>
<rect x="552.98" y="242.58" width="3.16" height="6.32"/>
<rect x="556.14" y="242.58" width="3.16" height="6.32"/>
<rect x="559.30" y="246.53" width="3.16" height="2.37"/>
<rect x="562.46" y="246.53" width="3.16" height="2.37"/>
<rect x="565.62" y="246.97" width="3.16" height="1.93"/>
<rect x="568.78" y="247.49" width="3.16" height="1.41"/>
</g>
<path d="M417.40 246.79h2.56M420.56 238.36h2.56M423.72 219.92h2.56M426.88 204.99h2.56M430.04 194.45h2.56M433.20 176.01h2.56M436.36 168.11h2.56M439.52 142.90h2.56M442.68 152.30h2.56M445.84 109.53h2.56M449.00 64.48h2.56M452.16 57.45h2.56M455.32 62.72h2.56M458.48 67.55h2.56M461.64 75.37h2.56M464.80 93.46h2.56M467.96 144.66h2.56M471.12 108.39h2.56M474.28 111.29h2.56M477.44 121.74h2.56M480.60 145.45h2.56M483.76 124.20h2.56M486.92 139.39h2.56M490.08 125.95h2.56M493.24 152.56h2.56M496.40 164.86h2.56M499.56 172.76h2.56M502.72 174.52h2.56M505.88 175.92h2.56M509.04 176.27h2.56M512.20 185.93h2.56M515.36 183.03h2.56M518.52 176.27h2.56M521.68 186.81h2.56M524.84 175.39h2.56M528.00 171.00h2.56M531.16 175.39h2.56M534.32 185.05h2.56M537.48 156.07h2.56M540.64 200.60h2.56M543.80 195.24h2.56M546.96 219.39h2.56M550.12 230.81h2.56M553.28 242.23h2.56M556.44 242.23h2.56M559.60 246.18h2.56M562.76 246.18h2.56M565.92 246.62h2.56M569.08 247.14h2.56" stroke="#e4505c" stroke-width="0.8" stroke-opacity="0.8" fill="none"/>
<path d="M397.10 248.63 L397.67 248.60 L398.24 248.56 L398.81 248.52 L399.38 248.48 L399.95 248.43 L400.52 248.37 L401.09 248.31 L401.66 248.24 L402.24 248.17 L402.81 248.09 L403.38 248.00 L403.95 247.90 L404.52 247.79 L405.09 247.67 L405.66 247.54 L406.23 247.39 L406.80 247.24 L407.37 247.07 L407.94 246.88 L408.51 246.68 L409.08 246.46 L409.65 246.22 L410.22 245.96 L410.79 245.68 L411.37 245.37 L411.94 245.04 L412.51 244.68 L413.08 244.30 L413.65 243.88 L414.22 243.43 L414.79 242.95 L415.36 242.43 L415.93 241.88 L416.50 241.28 L417.07 240.65 L417.64 239.97 L418.21 239.24 L418.78 238.47 L419.35 237.64 L419.92 236.76 L420.49 235.83 L421.07 234.84 L421.64 233.79 L422.21 232.68 L422.78 231.50 L423.35 230.26 L423.92 228.95 L424.49 227.57 L425.06 226.12 L425.63 224.59 L426.20 222.99 L426.77 221.31 L427.34 219.56 L427.91 217.72 L428.48 215.80 L429.05 213.81 L429.62 211.73 L430.19 209.56 L430.77 207.32 L431.34 204.99 L431.91 202.58 L432.48 200.08 L433.05 197.51 L433.62 194.85 L434.19 192.12 L434.76 189.31 L435.33 186.42 L435.90 183.46 L436.47 180.44 L437.04 177.34 L437.61 174.19 L438.18 170.97 L438.75 167.70 L439.32 164.38 L439.90 161.02 L440.47 157.61 L441.04 154.17 L441.61 150.71 L442.18 147.22 L442.75 143.71 L443.32 140.20 L443.89 136.69 L444.46 133.18 L445.03 129.68 L445.60 126.20 L446.17 122.76 L446.74 119.35 L447.31 115.98 L447.88 112.67 L448.45 109.42 L449.02 106.24 L449.60 103.14 L450.17 100.12 L450.74 97.20 L451.31 94.38 L451.88 91.67 L452.45 89.07 L453.02 86.61 L453.59 84.27 L454.16 82.07 L454.73 80.01 L455.30 78.11 L455.87 76.36 L456.44 74.78 L457.01 73.36 L457.58 72.11 L458.15 71.04 L458.72 70.14 L459.30 69.43 L459.87 68.89 L460.44 68.54 L461.01 68.38 L461.58 68.40 L462.15 68.61 L462.72 69.01 L463.29 69.59 L463.86 70.35 L464.43 71.29 L465.00 72.41 L465.57 73.70 L466.14 75.16 L466.71 76.79 L467.28 78.57 L467.85 80.51 L468.43 82.61 L469.00 84.84 L469.57 87.21 L470.14 89.71 L470.71 92.34 L471.28 95.08 L471.85 97.92 L472.42 100.87 L472.99 103.91 L473.56 107.03 L474.13 110.23 L474.70 113.50 L475.27 116.82 L475.84 120.20 L476.41 123.62 L476.98 127.07 L477.55 130.55 L478.13 134.05 L478.70 137.56 L479.27 141.08 L479.84 144.59 L480.41 148.09 L480.98 151.58 L481.55 155.04 L482.12 158.47 L482.69 161.86 L483.26 165.22 L483.83 168.52 L484.40 171.78 L484.97 174.98 L485.54 178.12 L486.11 181.20 L486.68 184.21 L487.25 187.15 L487.83 190.02 L488.40 192.81 L488.97 195.52 L489.54 198.16 L490.11 200.71 L490.68 203.19 L491.25 205.58 L491.82 207.89 L492.39 210.11 L492.96 212.25 L493.53 214.31 L494.10 216.29 L494.67 218.19 L495.24 220.00 L495.81 221.74 L496.38 223.40 L496.96 224.98 L497.53 226.49 L498.10 227.92 L498.67 229.28 L499.24 230.57 L499.81 231.80 L500.38 232.96 L500.95 234.06 L501.52 235.09 L502.09 236.07 L502.66 236.99 L503.23 237.85 L503.80 238.66 L504.37 239.43 L504.94 240.14 L505.51 240.81 L506.08 241.44 L506.66 242.02 L507.23 242.57 L507.80 243.07 L508.37 243.55 L508.94 243.99 L509.51 244.39 L510.08 244.77 L510.65 245.12 L511.22 245.45 L511.79 245.75 L512.36 246.02 L512.93 246.28 L513.50 246.51 L514.07 246.73 L514.64 246.93 L515.21 247.11 L515.78 247.28 L516.36 247.43 L516.93 247.57 L517.50 247.70 L518.07 247.82 L518.64 247.92 L519.21 248.02 L519.78 248.11 L520.35 248.19 L520.92 248.26 L521.49 248.33 L522.06 248.38 L522.63 248.44 L523.20 248.49 L523.77 248.53 L524.34 248.57 L524.91 248.61 L525.49 248.64 L526.06 248.67 L526.63 248.69 L527.20 248.72 L527.77 248.74 L528.34 248.76 L528.91 248.77 L529.48 248.79 L530.05 248.80 L530.62 248.81 L531.19 248.82 L531.76 248.83 L532.33 248.84 L532.90 248.85 L533.47 248.85 L534.04 248.86 L534.61 248.86 L535.19 248.87 L535.76 248.87 L536.33 248.88 L536.90 248.88 L537.47 248.88 L538.04 248.88 L538.61 248.89 L539.18 248.89 L539.75 248.89 L540.32 248.89 L540.89 248.89 L541.46 248.89 L542.03 248.89 L542.60 248.89 L543.17 248.90 L543.74 248.90 L544.31 248.90 L544.89 248.90 L545.46 248.90 L546.03 248.90 L546.60 248.90 L547.17 248.90 L547.74 248.90 L548.31 248.90 L548.88 248.90 L549.45 248.90 L550.02 248.90 L550.59 248.90 L551.16 248.90 L551.73 248.90 L552.30 248.90 L552.87 248.90 L553.44 248.90 L554.01 248.90 L554.59 248.90 L555.16 248.90 L555.73 248.90 L556.30 248.90 L556.87 248.90 L557.44 248.90 L558.01 248.90 L558.58 248.90 L559.15 248.90 L559.72 248.90 L560.29 248.90 L560.86 248.90 L561.43 248.90 L562.00 248.90 L562.57 248.90 L563.14 248.90 L563.72 248.90 L564.29 248.90 L564.86 248.90 L565.43 248.90 L566.00 248.90 L566.57 248.90 L567.14 248.90 L567.71 248.90 L568.28 248.90 L568.85 248.90 L569.42 248.90 L569.99 248.90 L570.56 248.90 L571.13 248.90 L571.70 248.90 L572.27 248.90 L572.84 248.90 L573.42 248.90 L573.99 248.90 L574.56 248.90 L575.13 248.90 L575.70 248.90 L576.27 248.90 L576.84 248.90 L577.41 248.90 L577.98 248.90 L578.55 248.90 L579.12 248.90 L579.69 248.90 L580.26 248.90 L580.83 248.90 L581.40 248.90 L581.97 248.90 L582.54 248.90 L583.12 248.90 L583.69 248.90 L584.26 248.90 L584.83 248.90 L585.40 248.90 L585.97 248.90 L586.54 248.90 L587.11 248.90 L587.68 248.90 L588.25 248.90 L588.82 248.90 L589.39 248.90 L589.96 248.90 L590.53 248.90 L591.10 248.90 L591.67 248.90 L592.25 248.90 L592.82 248.90 L593.39 248.90 L593.96 248.90 L594.53 248.90 L595.10 248.90 L595.67 248.90 L596.24 248.90 L596.81 248.90 L597.38 248.90 L597.95 248.90 L598.52 248.90 L599.09 248.90 L599.66 248.90 L600.23 248.90 L600.80 248.90 L601.37 248.90 L601.95 248.90 L602.52 248.90 L603.09 248.90 L603.66 248.90 L604.23 248.90 L604.80 248.90 L605.37 248.90 L605.94 248.90 L606.51 248.90 L607.08 248.90 L607.65 248.90 L608.22 248.90 L608.79 248.90 L609.36 248.90 L609.93 248.90 L610.50 248.90 L611.08 248.90 L611.65 248.90 L612.22 248.90 L612.79 248.90 L613.36 248.90 L613.93 248.90 L614.50 248.90 L615.07 248.90 L615.64 248.90 L616.21 248.90 L616.78 248.90 L617.35 248.90 L617.92 248.90 L618.49 248.90 L619.06 248.90 L619.63 248.90 L620.20 248.90 L620.78 248.90 L621.35 248.90 L621.92 248.90 L622.49 248.90 L623.06 248.90 L623.63 248.90 L624.20 248.90 L624.77 248.90 L625.34 248.90 L625.91 248.90 L626.48 248.90 L627.05 248.90 L627.62 248.90 L628.19 248.90 L628.76 248.90 L629.33 248.90 L629.90 248.90 L630.48 248.90 L631.05 248.90 L631.62 248.90 L632.19 248.90 L632.76 248.90 L633.33 248.90 L633.90 248.90 L634.47 248.90 L635.04 248.90 L635.61 248.90 L636.18 248.90 L636.75 248.90 L637.32 248.90 L637.89 248.90 L638.46 248.90 L639.03 248.90 L639.61 248.90 L640.18 248.90 L640.75 248.90 L641.32 248.90 L641.89 248.90 L642.46 248.90 L643.03 248.90 L643.60 248.90 L644.17 248.90 L644.74 248.90 L645.31 248.90 L645.88 248.90 L646.45 248.90 L647.02 248.90 L647.59 248.90 L648.16 248.90 L648.73 248.90 L649.31 248.90 L649.88 248.90 L650.45 248.90 L651.02 248.90 L651.59 248.90 L652.16 248.90 L652.73 248.90 L653.30 248.90 L653.87 248.90 L654.44 248.90 L655.01 248.90 L655.58 248.90 L656.15 248.90 L656.72 248.90 L657.29 248.90 L657.86 248.90 L658.43 248.90 L659.01 248.90 L659.58 248.90 L660.15 248.90 L660.72 248.90 L661.29 248.90 L661.86 248.90 L662.43 248.90 L663.00 248.90 L663.57 248.90 L664.14 248.90 L664.71 248.90 L665.28 248.90 L665.85 248.90 L666.42 248.90 L666.99 248.90 L667.56 248.90 L668.13 248.90 L668.71 248.90 L669.28 248.90 L669.85 248.90 L670.42 248.90 L670.99 248.90 L671.56 248.90 L672.13 248.90 L672.70 248.90 L673.27 248.90 L673.84 248.90 L674.41 248.90 L674.98 248.90 L675.55 248.90 L676.12 248.90 L676.69 248.90 L677.26 248.90 L677.84 248.90 L678.41 248.90 L678.98 248.90 L679.55 248.90 L680.12 248.90 L680.69 248.90 L681.26 248.90 L681.83 248.90 L682.40 248.90" fill="none" stroke="#dc531a" stroke-width="2.1" stroke-linejoin="round"/>
<path d="M397.10 248.90 L397.67 248.90 L398.24 248.90 L398.81 248.90 L399.38 248.90 L399.95 248.90 L400.52 248.90 L401.09 248.90 L401.66 248.90 L402.24 248.90 L402.81 248.90 L403.38 248.90 L403.95 248.90 L404.52 248.90 L405.09 248.90 L405.66 248.90 L406.23 248.90 L406.80 248.90 L407.37 248.90 L407.94 248.90 L408.51 248.90 L409.08 248.90 L409.65 248.90 L410.22 248.90 L410.79 248.90 L411.37 248.90 L411.94 248.90 L412.51 248.90 L413.08 248.90 L413.65 248.90 L414.22 248.90 L414.79 248.90 L415.36 248.90 L415.93 248.90 L416.50 248.90 L417.07 248.90 L417.64 248.90 L418.21 248.90 L418.78 248.90 L419.35 248.90 L419.92 248.90 L420.49 248.90 L421.07 248.90 L421.64 248.90 L422.21 248.90 L422.78 248.90 L423.35 248.90 L423.92 248.90 L424.49 248.89 L425.06 248.89 L425.63 248.89 L426.20 248.89 L426.77 248.89 L427.34 248.89 L427.91 248.89 L428.48 248.89 L429.05 248.89 L429.62 248.88 L430.19 248.88 L430.77 248.88 L431.34 248.88 L431.91 248.88 L432.48 248.87 L433.05 248.87 L433.62 248.87 L434.19 248.86 L434.76 248.86 L435.33 248.85 L435.90 248.85 L436.47 248.84 L437.04 248.84 L437.61 248.83 L438.18 248.82 L438.75 248.81 L439.32 248.80 L439.90 248.79 L440.47 248.78 L441.04 248.77 L441.61 248.76 L442.18 248.74 L442.75 248.73 L443.32 248.71 L443.89 248.69 L444.46 248.67 L445.03 248.65 L445.60 248.62 L446.17 248.60 L446.74 248.57 L447.31 248.53 L447.88 248.50 L448.45 248.46 L449.02 248.42 L449.60 248.38 L450.17 248.33 L450.74 248.28 L451.31 248.23 L451.88 248.17 L452.45 248.10 L453.02 248.03 L453.59 247.96 L454.16 247.88 L454.73 247.79 L455.30 247.70 L455.87 247.60 L456.44 247.49 L457.01 247.38 L457.58 247.26 L458.15 247.13 L458.72 246.99 L459.30 246.84 L459.87 246.68 L460.44 246.51 L461.01 246.33 L461.58 246.14 L462.15 245.93 L462.72 245.72 L463.29 245.49 L463.86 245.24 L464.43 244.99 L465.00 244.71 L465.57 244.42 L466.14 244.12 L466.71 243.80 L467.28 243.46 L467.85 243.10 L468.43 242.72 L469.00 242.32 L469.57 241.91 L470.14 241.47 L470.71 241.01 L471.28 240.53 L471.85 240.02 L472.42 239.49 L472.99 238.94 L473.56 238.36 L474.13 237.76 L474.70 237.14 L475.27 236.48 L475.84 235.80 L476.41 235.10 L476.98 234.36 L477.55 233.60 L478.13 232.81 L478.70 231.99 L479.27 231.15 L479.84 230.27 L480.41 229.37 L480.98 228.44 L481.55 227.48 L482.12 226.49 L482.69 225.47 L483.26 224.43 L483.83 223.36 L484.40 222.26 L484.97 221.13 L485.54 219.98 L486.11 218.80 L486.68 217.60 L487.25 216.38 L487.83 215.13 L488.40 213.86 L488.97 212.57 L489.54 211.26 L490.11 209.94 L490.68 208.59 L491.25 207.23 L491.82 205.86 L492.39 204.48 L492.96 203.08 L493.53 201.68 L494.10 200.27 L494.67 198.85 L495.24 197.43 L495.81 196.01 L496.38 194.60 L496.96 193.18 L497.53 191.77 L498.10 190.37 L498.67 188.98 L499.24 187.61 L499.81 186.25 L500.38 184.90 L500.95 183.58 L501.52 182.28 L502.09 181.00 L502.66 179.75 L503.23 178.53 L503.80 177.34 L504.37 176.18 L504.94 175.07 L505.51 173.99 L506.08 172.95 L506.66 171.95 L507.23 171.00 L507.80 170.10 L508.37 169.25 L508.94 168.44 L509.51 167.69 L510.08 167.00 L510.65 166.35 L511.22 165.77 L511.79 165.24 L512.36 164.78 L512.93 164.37 L513.50 164.03 L514.07 163.75 L514.64 163.53 L515.21 163.37 L515.78 163.28 L516.36 163.25 L516.93 163.28 L517.50 163.38 L518.07 163.55 L518.64 163.77 L519.21 164.06 L519.78 164.41 L520.35 164.82 L520.92 165.29 L521.49 165.83 L522.06 166.42 L522.63 167.06 L523.20 167.77 L523.77 168.52 L524.34 169.33 L524.91 170.19 L525.49 171.10 L526.06 172.05 L526.63 173.05 L527.20 174.09 L527.77 175.18 L528.34 176.30 L528.91 177.46 L529.48 178.65 L530.05 179.87 L530.62 181.13 L531.19 182.40 L531.76 183.71 L532.33 185.04 L532.90 186.38 L533.47 187.74 L534.04 189.12 L534.61 190.51 L535.19 191.91 L535.76 193.32 L536.33 194.74 L536.90 196.15 L537.47 197.57 L538.04 198.99 L538.61 200.41 L539.18 201.82 L539.75 203.22 L540.32 204.61 L540.89 206.00 L541.46 207.37 L542.03 208.73 L542.60 210.07 L543.17 211.40 L543.74 212.70 L544.31 213.99 L544.89 215.26 L545.46 216.50 L546.03 217.72 L546.60 218.92 L547.17 220.10 L547.74 221.25 L548.31 222.37 L548.88 223.46 L549.45 224.53 L550.02 225.58 L550.59 226.59 L551.16 227.57 L551.73 228.53 L552.30 229.46 L552.87 230.36 L553.44 231.23 L554.01 232.08 L554.59 232.89 L555.16 233.68 L555.73 234.44 L556.30 235.17 L556.87 235.87 L557.44 236.55 L558.01 237.20 L558.58 237.82 L559.15 238.42 L559.72 239.00 L560.29 239.55 L560.86 240.07 L561.43 240.58 L562.00 241.06 L562.57 241.51 L563.14 241.95 L563.72 242.36 L564.29 242.76 L564.86 243.13 L565.43 243.49 L566.00 243.83 L566.57 244.15 L567.14 244.45 L567.71 244.74 L568.28 245.01 L568.85 245.27 L569.42 245.51 L569.99 245.74 L570.56 245.96 L571.13 246.16 L571.70 246.35 L572.27 246.53 L572.84 246.70 L573.42 246.85 L573.99 247.00 L574.56 247.14 L575.13 247.27 L575.70 247.39 L576.27 247.50 L576.84 247.61 L577.41 247.71 L577.98 247.80 L578.55 247.89 L579.12 247.97 L579.69 248.04 L580.26 248.11 L580.83 248.17 L581.40 248.23 L581.97 248.29 L582.54 248.34 L583.12 248.38 L583.69 248.43 L584.26 248.47 L584.83 248.50 L585.40 248.54 L585.97 248.57 L586.54 248.60 L587.11 248.62 L587.68 248.65 L588.25 248.67 L588.82 248.69 L589.39 248.71 L589.96 248.73 L590.53 248.74 L591.10 248.76 L591.67 248.77 L592.25 248.78 L592.82 248.79 L593.39 248.80 L593.96 248.81 L594.53 248.82 L595.10 248.83 L595.67 248.84 L596.24 248.84 L596.81 248.85 L597.38 248.85 L597.95 248.86 L598.52 248.86 L599.09 248.87 L599.66 248.87 L600.23 248.87 L600.80 248.88 L601.37 248.88 L601.95 248.88 L602.52 248.88 L603.09 248.88 L603.66 248.89 L604.23 248.89 L604.80 248.89 L605.37 248.89 L605.94 248.89 L606.51 248.89 L607.08 248.89 L607.65 248.89 L608.22 248.89 L608.79 248.90 L609.36 248.90 L609.93 248.90 L610.50 248.90 L611.08 248.90 L611.65 248.90 L612.22 248.90 L612.79 248.90 L613.36 248.90 L613.93 248.90 L614.50 248.90 L615.07 248.90 L615.64 248.90 L616.21 248.90 L616.78 248.90 L617.35 248.90 L617.92 248.90 L618.49 248.90 L619.06 248.90 L619.63 248.90 L620.20 248.90 L620.78 248.90 L621.35 248.90 L621.92 248.90 L622.49 248.90 L623.06 248.90 L623.63 248.90 L624.20 248.90 L624.77 248.90 L625.34 248.90 L625.91 248.90 L626.48 248.90 L627.05 248.90 L627.62 248.90 L628.19 248.90 L628.76 248.90 L629.33 248.90 L629.90 248.90 L630.48 248.90 L631.05 248.90 L631.62 248.90 L632.19 248.90 L632.76 248.90 L633.33 248.90 L633.90 248.90 L634.47 248.90 L635.04 248.90 L635.61 248.90 L636.18 248.90 L636.75 248.90 L637.32 248.90 L637.89 248.90 L638.46 248.90 L639.03 248.90 L639.61 248.90 L640.18 248.90 L640.75 248.90 L641.32 248.90 L641.89 248.90 L642.46 248.90 L643.03 248.90 L643.60 248.90 L644.17 248.90 L644.74 248.90 L645.31 248.90 L645.88 248.90 L646.45 248.90 L647.02 248.90 L647.59 248.90 L648.16 248.90 L648.73 248.90 L649.31 248.90 L649.88 248.90 L650.45 248.90 L651.02 248.90 L651.59 248.90 L652.16 248.90 L652.73 248.90 L653.30 248.90 L653.87 248.90 L654.44 248.90 L655.01 248.90 L655.58 248.90 L656.15 248.90 L656.72 248.90 L657.29 248.90 L657.86 248.90 L658.43 248.90 L659.01 248.90 L659.58 248.90 L660.15 248.90 L660.72 248.90 L661.29 248.90 L661.86 248.90 L662.43 248.90 L663.00 248.90 L663.57 248.90 L664.14 248.90 L664.71 248.90 L665.28 248.90 L665.85 248.90 L666.42 248.90 L666.99 248.90 L667.56 248.90 L668.13 248.90 L668.71 248.90 L669.28 248.90 L669.85 248.90 L670.42 248.90 L670.99 248.90 L671.56 248.90 L672.13 248.90 L672.70 248.90 L673.27 248.90 L673.84 248.90 L674.41 248.90 L674.98 248.90 L675.55 248.90 L676.12 248.90 L676.69 248.90 L677.26 248.90 L677.84 248.90 L678.41 248.90 L678.98 248.90 L679.55 248.90 L680.12 248.90 L680.69 248.90 L681.26 248.90 L681.83 248.90 L682.40 248.90" fill="none" stroke="#dc531a" stroke-width="2.1" stroke-linejoin="round"/>
<path d="M397.10 248.90H682.40" stroke="#3a3a3a" stroke-width="1.2" stroke-opacity="0.6"/>
<path d="M468.43 248.90v-3.0M468.43 29.35v3.0M539.75 248.90v-3.0M539.75 29.35v3.0M611.08 248.90v-3.0M611.08 29.35v3.0M397.10 204.99h3.0M682.40 204.99h-3.0M397.10 161.08h3.0M682.40 161.08h-3.0M397.10 117.17h3.0M682.40 117.17h-3.0M397.10 73.26h3.0M682.40 73.26h-3.0" stroke="#3a3a3a" stroke-width="0.9" fill="none"/>
<text x="397.10" y="264.6" text-anchor="middle" font-size="12.5">0</text>
<text x="468.43" y="264.6" text-anchor="middle" font-size="12.5">0.5</text>
<text x="539.75" y="264.6" text-anchor="middle" font-size="12.5">1</text>
<text x="611.08" y="264.6" text-anchor="middle" font-size="12.5">1.5</text>
<text x="682.40" y="264.6" text-anchor="middle" font-size="12.5">2</text>
<text x="392.00" y="251.90" text-anchor="end" font-size="12.5">0</text>
<text x="392.00" y="207.99" text-anchor="end" font-size="12.5">0.5</text>
<text x="392.00" y="164.08" text-anchor="end" font-size="12.5">1</text>
<text x="392.00" y="120.17" text-anchor="end" font-size="12.5">1.5</text>
<text x="392.00" y="76.26" text-anchor="end" font-size="12.5">2</text>
<text x="392.00" y="32.35" text-anchor="end" font-size="12.5">2.5</text>
<text transform="translate(368.3 138.8) rotate(-90)" text-anchor="middle" font-size="13.2" textLength="19.3" lengthAdjust="spacingAndGlyphs">pdf</text>
<text x="489.80" y="281.00" font-size="13.2" textLength="98.80" lengthAdjust="spacing">gait speed (<tspan font-style="italic">V</tspan><tspan font-size="9.3" dy="2.2"><tspan font-style="italic">c</tspan>,95</tspan><tspan dy="-2.2">)</tspan></text>
<text y="147.70" font-size="12"><tspan x="595.00" font-style="italic">c</tspan><tspan font-size="8.4" dy="1.8">1</tspan><tspan dy="-1.8" x="609.00" textLength="9.3" lengthAdjust="spacingAndGlyphs">=</tspan><tspan x="621.40" textLength="33.6" lengthAdjust="spacing">2.0557</tspan></text>
<text y="162.60" font-size="12"><tspan x="595.00" font-style="italic">μ</tspan><tspan font-size="8.4" dy="1.8">1</tspan><tspan dy="-1.8" x="611.20" textLength="9.3" lengthAdjust="spacingAndGlyphs">=</tspan><tspan x="623.20" textLength="33.6" lengthAdjust="spacing">0.4495</tspan></text>
<text y="177.50" font-size="12"><tspan x="595.00" font-style="italic">σ</tspan><tspan font-size="8.4" dy="1.8">1</tspan><tspan dy="-1.8" x="611.20" textLength="9.3" lengthAdjust="spacingAndGlyphs">=</tspan><tspan x="623.20" textLength="33.6" lengthAdjust="spacing">0.1762</tspan></text>
<text y="206.60" font-size="12"><tspan x="595.00" font-style="italic">c</tspan><tspan font-size="8.4" dy="1.8">2</tspan><tspan dy="-1.8" x="609.00" textLength="9.3" lengthAdjust="spacingAndGlyphs">=</tspan><tspan x="621.40" textLength="33.6" lengthAdjust="spacing">0.9753</tspan></text>
<text y="221.50" font-size="12"><tspan x="595.00" font-style="italic">μ</tspan><tspan font-size="8.4" dy="1.8">2</tspan><tspan dy="-1.8" x="611.20" textLength="9.3" lengthAdjust="spacingAndGlyphs">=</tspan><tspan x="623.20" textLength="33.6" lengthAdjust="spacing">0.8358</tspan></text>
<text y="236.10" font-size="12"><tspan x="595.00" font-style="italic">σ</tspan><tspan font-size="8.4" dy="1.8">2</tspan><tspan dy="-1.8" x="611.20" textLength="9.3" lengthAdjust="spacingAndGlyphs">=</tspan><tspan x="623.20" textLength="33.6" lengthAdjust="spacing">0.2071</tspan></text>
<text x="360.4" y="11.0" font-family='"Liberation Sans", "DejaVu Sans", sans-serif' font-weight="bold" font-size="16" fill="#000" stroke="#000" stroke-width="0.3">b</text>
<rect x="502.4" y="43.4" width="166.1" height="86.9" fill="#fff" stroke="#2a2a2a" stroke-width="1"/>
<rect x="509.2" y="50.60" width="16.6" height="5.6" fill="#4da5c0" stroke="#3292b0" stroke-width="0.8"/>
<text x="529.3" y="56.80" font-size="11" textLength="130.4" lengthAdjust="spacing">20-m convenient speed ON</text>
<rect x="509.2" y="67.30" width="16.6" height="5.6" fill="#c9e6ee" stroke="#6cc3d8" stroke-width="0.8"/>
<text x="529.3" y="73.50" font-size="11" textLength="136.8" lengthAdjust="spacing">20-m convenient speed OFF</text>
<rect x="509.2" y="84.00" width="16.6" height="5.6" fill="#e8545f" stroke="#dd3d4b" stroke-width="0.8"/>
<text x="529.3" y="90.20" font-size="11" textLength="96.3" lengthAdjust="spacing">20-m fast speed ON</text>
<rect x="509.2" y="100.70" width="16.6" height="5.6" fill="#e2912f" stroke="#d47a12" stroke-width="0.8"/>
<text x="529.3" y="106.90" font-size="11" textLength="56.9" lengthAdjust="spacing">circular ON</text>
<rect x="509.2" y="117.40" width="16.6" height="5.6" fill="#eac8a6" stroke="#dca06a" stroke-width="0.8"/>
<text x="529.3" y="123.60" font-size="11" textLength="63.1" lengthAdjust="spacing">circular OFF</text>
</svg>
</body></html>
